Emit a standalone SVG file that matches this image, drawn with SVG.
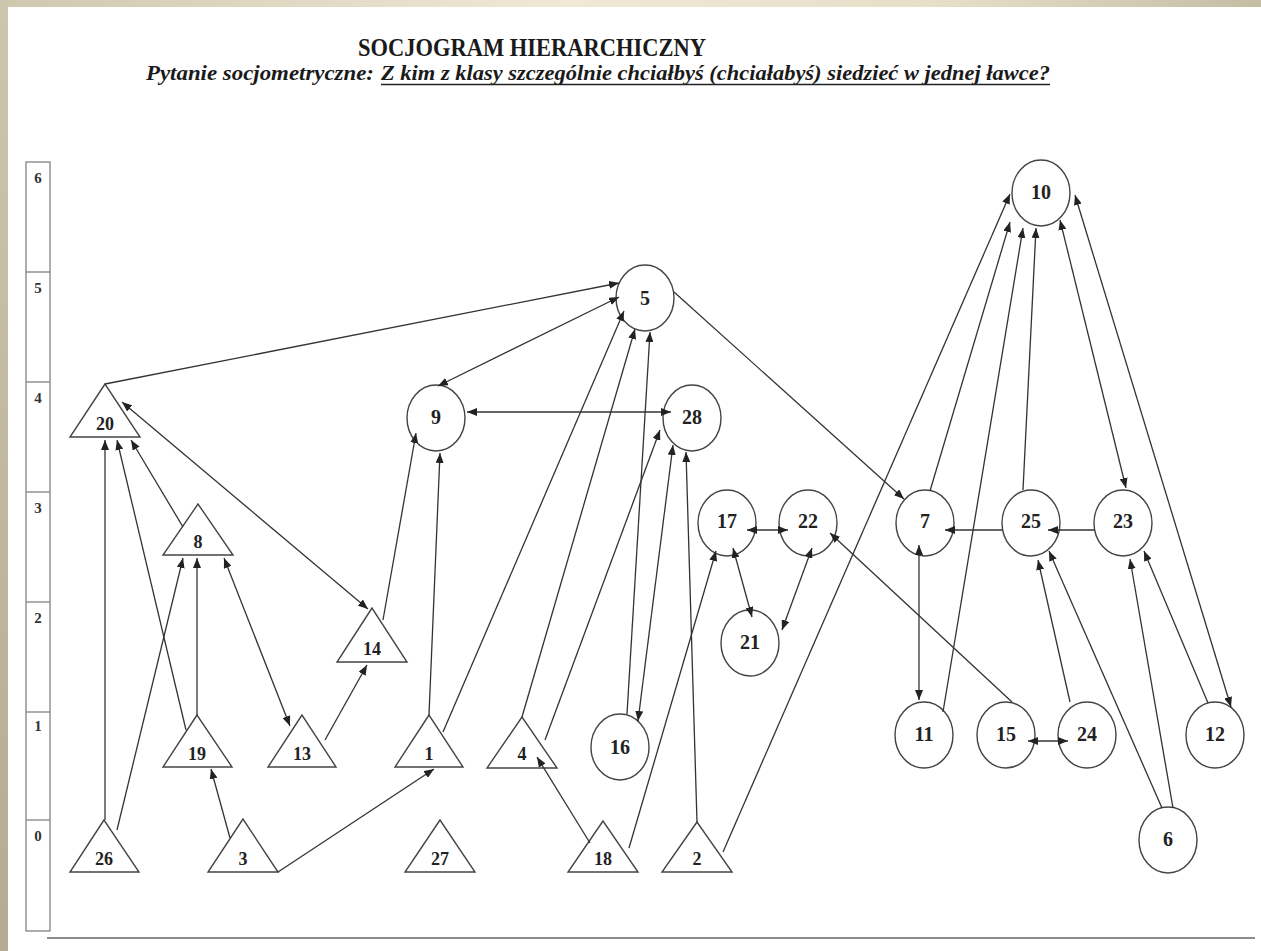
<svg xmlns="http://www.w3.org/2000/svg" width="1261" height="951" viewBox="0 0 1261 951">
<defs>
<linearGradient id="topg" x1="0" y1="0" x2="1" y2="0">
<stop offset="0" stop-color="#cfc8af"/>
<stop offset="0.45" stop-color="#f0e9d6"/>
<stop offset="0.75" stop-color="#e6dec7"/>
<stop offset="1" stop-color="#c4bca3"/>
</linearGradient>
<linearGradient id="leftg" x1="0" y1="0" x2="0" y2="1">
<stop offset="0" stop-color="#cdc6ae"/>
<stop offset="1" stop-color="#b3ab94"/>
</linearGradient>
<marker id="a" viewBox="0 0 10 8" refX="10" refY="4" markerWidth="10" markerHeight="8" markerUnits="userSpaceOnUse" orient="auto-start-reverse">
<path d="M0,0 L10,4 L0,8 z" fill="#222"/>
</marker>
<style>
.bg{fill:#ffffff}
.nd{fill:#ffffff;stroke:#444;stroke-width:1.4}
.lb{font-family:"Liberation Serif","Times New Roman",serif;font-weight:bold;fill:#222;text-anchor:middle}
.tl{font-size:18px}
.cl{font-size:20px}
.ax{font-family:"Liberation Serif","Times New Roman",serif;font-weight:bold;font-size:15px;fill:#333;text-anchor:middle}
.e line{stroke:#333;stroke-width:1.3;marker-end:url(#a)}
.e line.b{marker-start:url(#a)}
.frame{fill:none;stroke:#777;stroke-width:1.2}
.hd{font-family:"Liberation Serif","Times New Roman",serif;font-weight:bold;fill:#1a1a1a}
</style>
</defs>
<rect class="bg" x="0" y="0" width="1261" height="951"/>
<rect x="0" y="0" width="1261" height="7" fill="url(#topg)"/>
<rect x="0" y="0" width="8" height="951" fill="url(#leftg)"/>

<g id="title">
<text class="hd" x="358" y="56" font-size="25" textLength="348" lengthAdjust="spacingAndGlyphs">SOCJOGRAM HIERARCHICZNY</text>
<text class="hd" x="146" y="80" font-size="20" font-style="italic" textLength="228" lengthAdjust="spacingAndGlyphs">Pytanie socjometryczne:</text>
<text class="hd" x="381" y="80" font-size="20" font-style="italic" textLength="669" lengthAdjust="spacingAndGlyphs">Z kim z klasy szczególnie chciałbyś (chciałabyś) siedzieć w jednej ławce?</text>
<line x1="381" y1="84.5" x2="1050" y2="84.5" stroke="#222" stroke-width="1.6"/>
</g>

<g id="axis">
<rect class="frame" x="26" y="162" width="24" height="769"/>
<line class="frame" x1="26" y1="272" x2="50" y2="272"/>
<line class="frame" x1="26" y1="382" x2="50" y2="382"/>
<line class="frame" x1="26" y1="492" x2="50" y2="492"/>
<line class="frame" x1="26" y1="602" x2="50" y2="602"/>
<line class="frame" x1="26" y1="712" x2="50" y2="712"/>
<line class="frame" x1="26" y1="820" x2="50" y2="820"/>
<text class="ax" x="38" y="183">6</text>
<text class="ax" x="38" y="293">5</text>
<text class="ax" x="38" y="403">4</text>
<text class="ax" x="38" y="513">3</text>
<text class="ax" x="38" y="623">2</text>
<text class="ax" x="38" y="731">1</text>
<text class="ax" x="38" y="841">0</text>
<line x1="47" y1="938" x2="1255" y2="938" stroke="#666" stroke-width="1.5"/>
</g>

<g id="n20"><polygon class="nd" points="105,384 70,437 140,437"/><text class="lb tl" x="105" y="430">20</text></g>
<g id="n8"><polygon class="nd" points="198,504 163,555 233,555"/><text class="lb tl" x="198" y="548">8</text></g>
<g id="n14"><polygon class="nd" points="372,608 337,662 407,662"/><text class="lb tl" x="372" y="655">14</text></g>
<g id="n19"><polygon class="nd" points="197,715 163,767 232,767"/><text class="lb tl" x="197" y="760">19</text></g>
<g id="n13"><polygon class="nd" points="302,715 268,767 336,767"/><text class="lb tl" x="302" y="760">13</text></g>
<g id="n1"><polygon class="nd" points="429,715 395,767 463,767"/><text class="lb tl" x="429" y="760">1</text></g>
<g id="n4"><polygon class="nd" points="522,717 487,768 557,768"/><text class="lb tl" x="522" y="760">4</text></g>
<g id="n26"><polygon class="nd" points="104,820 70,872 139,872"/><text class="lb tl" x="104" y="865">26</text></g>
<g id="n3"><polygon class="nd" points="243,819 208,872 278,872"/><text class="lb tl" x="243" y="865">3</text></g>
<g id="n27"><polygon class="nd" points="440,820 405,872 475,872"/><text class="lb tl" x="440" y="865">27</text></g>
<g id="n18"><polygon class="nd" points="603,821 568,872 638,872"/><text class="lb tl" x="603" y="865">18</text></g>
<g id="n2"><polygon class="nd" points="697,822 662,872 732,872"/><text class="lb tl" x="697" y="865">2</text></g>

<g id="n5"><ellipse class="nd" cx="645" cy="298" rx="29" ry="33"/><text class="lb cl" x="645" y="305">5</text></g>
<g id="n9"><ellipse class="nd" cx="436" cy="418" rx="29" ry="33"/><text class="lb cl" x="436" y="424">9</text></g>
<g id="n28"><ellipse class="nd" cx="692" cy="418" rx="29" ry="33"/><text class="lb cl" x="692" y="424">28</text></g>
<g id="n10"><ellipse class="nd" cx="1041" cy="193" rx="29" ry="33"/><text class="lb cl" x="1041" y="199">10</text></g>
<g id="n17"><ellipse class="nd" cx="727" cy="523" rx="29" ry="33"/><text class="lb cl" x="727" y="528">17</text></g>
<g id="n22"><ellipse class="nd" cx="808" cy="523" rx="29" ry="33"/><text class="lb cl" x="808" y="528">22</text></g>
<g id="n7"><ellipse class="nd" cx="925" cy="523" rx="29" ry="33"/><text class="lb cl" x="925" y="528">7</text></g>
<g id="n25"><ellipse class="nd" cx="1031" cy="523" rx="29" ry="33"/><text class="lb cl" x="1031" y="528">25</text></g>
<g id="n23"><ellipse class="nd" cx="1123" cy="523" rx="29" ry="33"/><text class="lb cl" x="1123" y="528">23</text></g>
<g id="n21"><ellipse class="nd" cx="750" cy="643" rx="29" ry="33"/><text class="lb cl" x="750" y="649">21</text></g>
<g id="n16"><ellipse class="nd" cx="620" cy="747" rx="29" ry="33"/><text class="lb cl" x="620" y="754">16</text></g>
<g id="n11"><ellipse class="nd" cx="924" cy="735" rx="29" ry="33"/><text class="lb cl" x="924" y="741">11</text></g>
<g id="n15"><ellipse class="nd" cx="1006" cy="735" rx="29" ry="33"/><text class="lb cl" x="1006" y="741">15</text></g>
<g id="n24"><ellipse class="nd" cx="1087" cy="735" rx="29" ry="33"/><text class="lb cl" x="1087" y="741">24</text></g>
<g id="n12"><ellipse class="nd" cx="1215" cy="735" rx="29" ry="33"/><text class="lb cl" x="1215" y="741">12</text></g>
<g id="n6"><ellipse class="nd" cx="1168" cy="840" rx="29" ry="33"/><text class="lb cl" x="1168" y="846">6</text></g>

<g id="connectors" class="e">
<line x1="105" y1="384" x2="619" y2="283"/>
<line class="b" x1="619" y1="297" x2="438" y2="386"/>
<line class="b" x1="467" y1="412" x2="671" y2="412"/>
<line x1="674" y1="292" x2="904" y2="499"/>
<line class="b" x1="122" y1="402" x2="368" y2="609"/>
<line x1="105" y1="820" x2="105" y2="440"/>
<line x1="186" y1="730" x2="117" y2="440"/>
<line x1="183" y1="527" x2="131" y2="440"/>
<line x1="383" y1="620" x2="416" y2="433"/>
<line x1="429" y1="715" x2="440" y2="453"/>
<line x1="325" y1="740" x2="367" y2="665"/>
<line x1="230" y1="838" x2="211" y2="769"/>
<line x1="278" y1="872" x2="434" y2="769"/>
<line x1="117" y1="830" x2="183" y2="558"/>
<line x1="197" y1="715" x2="197" y2="558"/>
<line class="b" x1="224" y1="558" x2="290" y2="726"/>
<line x1="443" y1="732" x2="624" y2="311"/>
<line x1="522" y1="717" x2="635" y2="329"/>
<line x1="545" y1="740" x2="660" y2="430"/>
<line x1="627" y1="714" x2="650" y2="332"/>
<line class="b" x1="638" y1="721" x2="673" y2="445"/>
<line x1="697" y1="822" x2="686" y2="452"/>
<line x1="590" y1="843" x2="537" y2="757"/>
<line x1="629" y1="848" x2="716" y2="551"/>
<line x1="723" y1="852" x2="1010" y2="194"/>
<line class="b" x1="747" y1="530" x2="788" y2="530"/>
<line class="b" x1="733" y1="548" x2="752" y2="617"/>
<line class="b" x1="812" y1="548" x2="782" y2="630"/>
<line x1="1012" y1="702" x2="830" y2="533"/>
<line class="b" x1="919" y1="545" x2="919" y2="700"/>
<line x1="1002" y1="530" x2="945" y2="530"/>
<line x1="1094" y1="530" x2="1048" y2="530"/>
<line x1="930" y1="491" x2="1010" y2="222"/>
<line x1="943" y1="712" x2="1023" y2="228"/>
<line x1="1023" y1="490" x2="1036" y2="228"/>
<line class="b" x1="1060" y1="220" x2="1126" y2="488"/>
<line class="b" x1="1075" y1="195" x2="1231" y2="707"/>
<line x1="1070" y1="702" x2="1038" y2="560"/>
<line x1="1162" y1="808" x2="1049" y2="551"/>
<line x1="1173" y1="808" x2="1130" y2="559"/>
<line x1="1208" y1="703" x2="1144" y2="551"/>
<line class="b" x1="1028" y1="741" x2="1068" y2="741"/>
</g>
</svg>
